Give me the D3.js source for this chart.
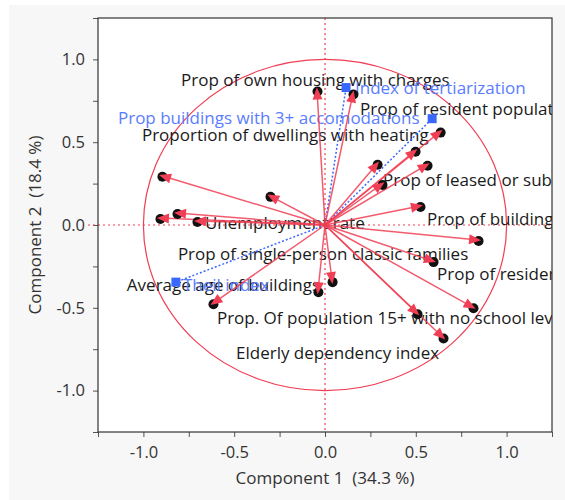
<!DOCTYPE html>
<html lang="en">
<head>
<meta charset="UTF-8">
<title>Loading plot</title>
<style>
  body { margin: 0; background: #fff; }
  text { font-family: "Open Sans", "Noto Sans", sans-serif; white-space: pre; }
</style>
</head>
<body>
<div id="my_dataviz"></div>
<script src="https://d3js.org/d3.v7.min.js"></script>
<script>
// loadings (component 1, component 2) of the red variables
var redX = [-0.044, 0.154, 0.634, 0.496, 0.287, 0.562, 0.314, 0.523, -0.898, -0.303, -0.815, -0.909, -0.705,
            0.843, 0.595, 0.815, 0.507, 0.650, 0.039, -0.039, -0.617];
var redY = [0.812, 0.794, 0.564, 0.448, 0.370, 0.364, 0.248, 0.115, 0.297, 0.176, 0.073, 0.042, 0.024,
            -0.091, -0.218, -0.497, -0.533, -0.679, -0.339, -0.400, -0.473];

// supplementary (blue) variables
var blueNames = ["Index of tertiarization", "Prop buildings with 3+ accomodations", "Theil index"];
var blueX = [0.116, 0.590, -0.821];
var blueY = [0.830, 0.642, -0.345];

// labels as JMP placed them, in component units
var labelText = ["Prop of own housing with charges", "Index of tertiarization", "Prop of resident population",
  "Prop buildings with 3+ accomodations", "Proportion of dwellings with heating", "Prop of leased or sublet dwellings",
  "Prop of buildings", "Unemployment rate", "Prop of single-person classic families", "Prop of residents",
  "Average age of buildings", "Theil index", "Prop. Of population 15+ with no school level", "Elderly dependency index"];
var labelX = [-0.793, 0.165, 0.193, -1.140, -1.008, 0.320, 0.562, -0.661, -0.810, 0.617, -1.091, -0.782, -0.595, -0.490];
var labelY = [0.873, 0.824, 0.703, 0.648, 0.545, 0.273, 0.036, 0.012, -0.176, -0.297, -0.364, -0.364, -0.564, -0.776];
var labelBlue = [false, true, false, true, false, false, false, false, false, false, false, true, false, false];

var xTitle = "Component 1  (34.3 %)";
var yTitle = "Component 2  (18.4 %)";

var W = 565, H = 500;
const margin = { left: 98, right: 552, top: 18, bottom: 432 };
var red = "rgb(240,62,84)";
var blue = "rgb(58,104,255)";

var svg = d3.select("#my_dataviz").append("svg")
    .attr("width", W)
    .attr("height", H);

svg.append("rect").attr("x", 9).attr("y", 5).attr("width", W - 9).attr("height", H - 5).attr("fill", "#f7f7f7");
svg.append("rect").attr("x", margin.left).attr("y", margin.top)
    .attr("width", margin.right - margin.left).attr("height", margin.bottom - margin.top)
    .attr("fill", "#fff");

var x = d3.scaleLinear().domain([-1.25, 1.25]).range([margin.left, margin.right]);
var y = d3.scaleLinear().domain([-1.25, 1.25]).range([margin.bottom, margin.top]);

var ticks = d3.range(-1.25, 1.26, 0.25);
function fmt(d) {
    return Math.abs(d * 2 - Math.round(d * 2)) < 1e-9 ? (Math.abs(d) < 1e-9 ? "0.0" : d.toFixed(1)) : "";
}

var xAxis = d3.axisBottom(x).tickValues(ticks).tickFormat(fmt).tickSize(5).tickPadding(9);
var yAxis = d3.axisLeft(y).tickValues(ticks).tickFormat(fmt).tickSize(5).tickPadding(8);

svg.append("g").attr("class", "myXaxis").attr("transform", `translate(0,${margin.bottom})`).call(xAxis);
svg.append("g").attr("class", "myYaxis").attr("transform", `translate(${margin.left},0)`).call(yAxis);
svg.selectAll(".domain").remove();
svg.selectAll(".tick line").attr("stroke", "#555");
svg.selectAll(".tick text").attr("font-size", 16.5).attr("fill", "#333")
    .attr("font-family", "'Open Sans', sans-serif");

// zero reference lines
svg.append("line").attr("x1", margin.left - 10).attr("x2", margin.right).attr("y1", y(0)).attr("y2", y(0))
    .attr("stroke", red).attr("stroke-width", 1.2).attr("stroke-dasharray", "2,3");

svg.append("defs").append("clipPath").attr("id", "plotclip")
    .append("rect").attr("x", margin.left).attr("y", margin.top)
    .attr("width", margin.right - margin.left).attr("height", margin.bottom - margin.top);

var g = svg.append("g").attr("clip-path", "url(#plotclip)");

g.append("line").attr("x1", x(0)).attr("x2", x(0)).attr("y1", margin.top).attr("y2", margin.bottom)
    .attr("stroke", red).attr("stroke-width", 1.2).attr("stroke-dasharray", "2,3");

// unit circle
g.append("ellipse")
    .attr("cx", x(0)).attr("cy", y(0))
    .attr("rx", x(1) - x(0)).attr("ry", y(0) - y(1))
    .attr("fill", "none").attr("stroke", red).attr("stroke-width", 1.2);

var reds = redX.map(function (d, i) { return { v1: d, v2: redY[i] }; });
var blues = blueX.map(function (d, i) { return { v1: d, v2: blueY[i], name: blueNames[i] }; });

function head(d, len, hw, ahead) {
    var px = x(d.v1), py = y(d.v2);
    var dx = px - x(0), dy = py - y(0);
    var L = Math.sqrt(dx * dx + dy * dy);
    var ux = dx / L, uy = dy / L;
    var tx = px + ux * ahead, ty = py + uy * ahead;
    var bx = tx - ux * len, by = ty - uy * len;
    return [[tx, ty], [bx - uy * hw, by + ux * hw], [bx + uy * hw, by - ux * hw]];
}

// labels first, arrows drawn above
var labels = labelText.map(function (t, i) {
    return { text: t, v1: labelX[i], v2: labelY[i], blue: labelBlue[i] };
});

g.selectAll(".lab")
    .data(labels)
    .join("text")
    .attr("class", "lab")
    .attr("x", function (d) { return x(d.v1); })
    .attr("y", function (d) { return y(d.v2); })
    .attr("dy", "0.35em")
    .attr("font-size", 17)
    .attr("fill", function (d) { return d.blue ? "rgb(90,125,255)" : "#1a1a1a"; })
    .text(function (d) { return d.text; });

// blue dotted vectors
g.selectAll(".blueLine")
    .data(blues)
    .join("line")
    .attr("class", "blueLine")
    .attr("x1", x(0)).attr("y1", y(0))
    .attr("x2", function (d) { return x(d.v1); })
    .attr("y2", function (d) { return y(d.v2); })
    .attr("stroke", blue).attr("stroke-width", 1.5).attr("stroke-dasharray", "2,2");

g.selectAll(".blueMark")
    .data(blues)
    .join("rect")
    .attr("class", "blueMark")
    .attr("x", function (d) { return x(d.v1) - 4.5; })
    .attr("y", function (d) { return y(d.v2) - 4.5; })
    .attr("width", 9).attr("height", 9)
    .attr("fill", blue);

// red vectors
g.selectAll(".redLine")
    .data(reds)
    .join("line")
    .attr("class", "redLine")
    .attr("x1", x(0)).attr("y1", y(0))
    .attr("x2", function (d) { return x(d.v1); })
    .attr("y2", function (d) { return y(d.v2); })
    .attr("stroke", red).attr("stroke-width", 1.5).attr("stroke-opacity", 0.85);

g.selectAll(".dot")
    .data(reds)
    .join("circle")
    .attr("class", "dot")
    .attr("cx", function (d) { return x(d.v1) + 0.5; })
    .attr("cy", function (d) { return y(d.v2) + 1; })
    .attr("r", 5)
    .attr("fill", "#111");

g.selectAll(".head")
    .data(reds)
    .join("path")
    .attr("class", "head")
    .attr("d", function (d) { return "M" + head(d, 12, 5, 3).join("L") + "Z"; })
    .attr("fill", red);

// frame
svg.append("rect").attr("x", margin.left).attr("y", margin.top)
    .attr("width", margin.right - margin.left).attr("height", margin.bottom - margin.top)
    .attr("fill", "none").attr("stroke", "#333").attr("stroke-width", 1.2);

// axis titles
svg.append("text")
    .attr("x", (margin.left + margin.right) / 2).attr("y", 484)
    .attr("text-anchor", "middle")
    .attr("font-size", 17).attr("fill", "#333")
    .text(xTitle);

svg.append("text")
    .attr("transform", `translate(41,${y(0)}) rotate(-90)`)
    .attr("text-anchor", "middle")
    .attr("font-size", 17).attr("fill", "#333")
    .text(yTitle);
</script>
</body>
</html>
